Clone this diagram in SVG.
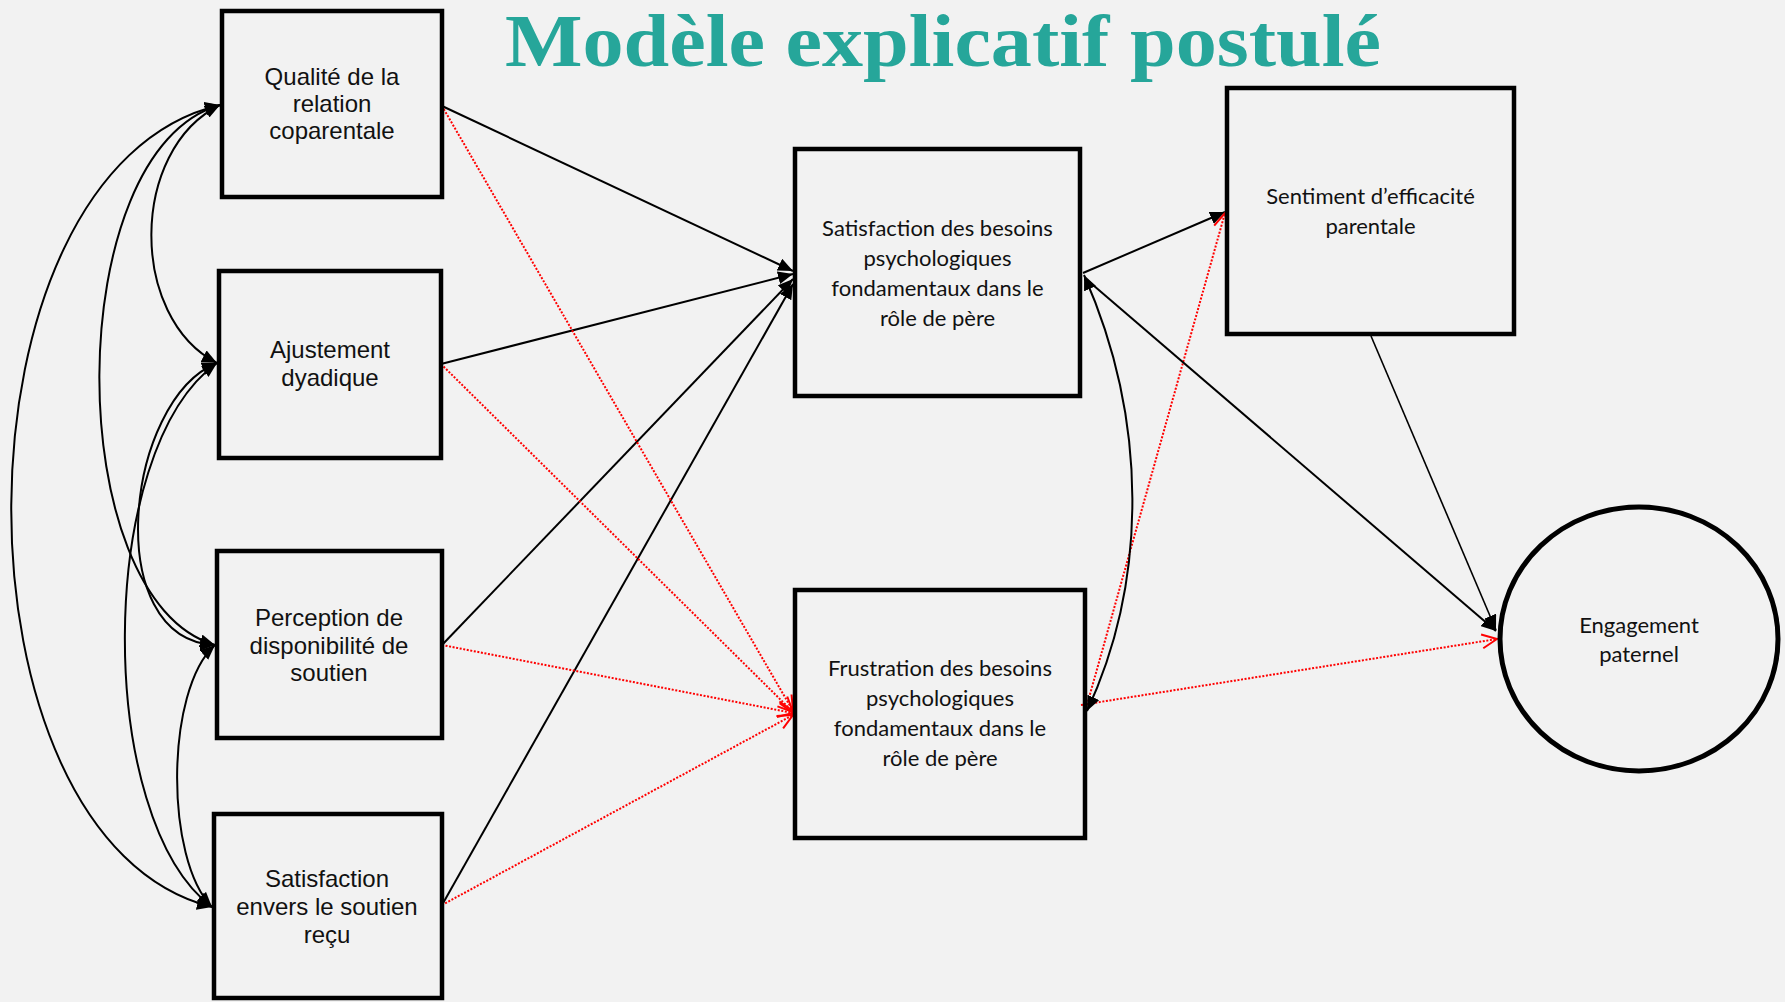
<svg xmlns="http://www.w3.org/2000/svg" width="1785" height="1002" viewBox="0 0 1785 1002">
  <defs>
    <style>
      .box { fill: none; stroke: #000; stroke-width: 4.5; }
      .lt { font-family: "Liberation Sans", Arial, sans-serif; font-size: 24px; fill: #111; text-anchor: middle; }
      .rt { font-family: Lato, "Open Sans", sans-serif; font-size: 22px; fill: #111; text-anchor: middle; }
      .solid { fill: none; stroke: #000; stroke-width: 2; }
      .thin { fill: none; stroke: #000; stroke-width: 1.6; }
      .dot { fill: none; stroke: #ff0000; stroke-width: 2; stroke-dasharray: 2 1.6; }
    </style>
    <marker id="ah" viewBox="0 0 15 13" refX="15" refY="6.5" markerWidth="15" markerHeight="13" markerUnits="userSpaceOnUse" orient="auto-start-reverse">
      <path d="M0,0 L15,6.5 L0,13 z" fill="#000"/>
    </marker>
    <marker id="rh" viewBox="0 0 17 17" refX="16" refY="8.5" markerWidth="17" markerHeight="17" markerUnits="userSpaceOnUse" orient="auto">
      <path d="M1,1.5 L16,8.5 L1,15.5" fill="none" stroke="#ff0000" stroke-width="2"/>
    </marker>
  </defs>
  <rect width="1785" height="1002" fill="#f2f2f2"/>

  <text x="943" y="66" font-family="'Liberation Serif', 'Times New Roman', serif" font-weight="bold" font-size="73" fill="#26a69a" text-anchor="middle" textLength="876" lengthAdjust="spacingAndGlyphs">Modèle explicatif postulé</text>

  <g id="connectors">
    <!-- left covariances -->
    <path class="solid" d="M220,105 C129,150 129,318 217,363" marker-start="url(#ah)" marker-end="url(#ah)"/>
    <path class="solid" d="M220,105 C60,150 60,600 215,645" marker-start="url(#ah)" marker-end="url(#ah)"/>
    <path class="solid" d="M220,105 C-57,170 -57,840 212,907" marker-start="url(#ah)" marker-end="url(#ah)"/>
    <path class="solid" d="M217,363 C125,400 100,640 215,645" marker-start="url(#ah)" marker-end="url(#ah)"/>
    <path class="solid" d="M217,363 C95,450 95,820 212,907" marker-start="url(#ah)" marker-end="url(#ah)"/>
    <path class="solid" d="M215,645 C165,690 165,860 212,907" marker-start="url(#ah)" marker-end="url(#ah)"/>

    <!-- to satisfaction -->
    <line class="solid" x1="442" y1="106" x2="793" y2="271" marker-end="url(#ah)"/>
    <line class="solid" x1="441" y1="364" x2="793" y2="274" marker-end="url(#ah)"/>
    <line class="solid" x1="442" y1="645" x2="793" y2="279" marker-end="url(#ah)"/>
    <line class="solid" x1="442" y1="905" x2="793" y2="284" marker-end="url(#ah)"/>

    <!-- to frustration -->
    <line class="dot" x1="442" y1="106" x2="793" y2="711" marker-end="url(#rh)"/>
    <line class="dot" x1="441" y1="364" x2="793" y2="712" marker-end="url(#rh)"/>
    <line class="dot" x1="442" y1="645" x2="793" y2="713" marker-end="url(#rh)"/>
    <line class="dot" x1="442" y1="905" x2="793" y2="715" marker-end="url(#rh)"/>

    <!-- right side -->
    <line class="solid" x1="1083" y1="273" x2="1225" y2="212" marker-end="url(#ah)"/>
    <line class="dot" x1="1085" y1="712" x2="1225" y2="213" marker-end="url(#rh)"/>
    <line class="dot" x1="1081" y1="705" x2="1497" y2="639" marker-end="url(#rh)"/>
    <line class="solid" x1="1086" y1="279" x2="1496" y2="631" marker-end="url(#ah)"/>
    <line class="thin" x1="1371" y1="336" x2="1496" y2="630" marker-end="url(#ah)"/>
    <path class="solid" d="M1084,275 C1148,420 1148,580 1087,711" marker-start="url(#ah)" marker-end="url(#ah)"/>
  </g>

  <g id="node-qualite">
    <rect class="box" x="222" y="11" width="220" height="186"/>
    <text class="lt" x="332" y="85">Qualité de la</text>
    <text class="lt" x="332" y="112">relation</text>
    <text class="lt" x="332" y="139">coparentale</text>
  </g>
  <g id="node-ajustement">
    <rect class="box" x="219" y="271" width="222" height="187"/>
    <text class="lt" x="330" y="358">Ajustement</text>
    <text class="lt" x="330" y="386">dyadique</text>
  </g>
  <g id="node-perception">
    <rect class="box" x="217" y="551" width="225" height="187"/>
    <text class="lt" x="329" y="626">Perception de</text>
    <text class="lt" x="329" y="654">disponibilité de</text>
    <text class="lt" x="329" y="681">soutien</text>
  </g>
  <g id="node-satisfaction-soutien">
    <rect class="box" x="214" y="814" width="228" height="184"/>
    <text class="lt" x="327" y="887">Satisfaction</text>
    <text class="lt" x="327" y="915">envers le soutien</text>
    <text class="lt" x="327" y="943">reçu</text>
  </g>
  <g id="node-satisfaction-besoins">
    <rect class="box" x="795" y="149" width="285" height="247"/>
    <text class="rt" x="937.5" y="236">Satisfaction des besoins</text>
    <text class="rt" x="937.5" y="266">psychologiques</text>
    <text class="rt" x="937.5" y="296">fondamentaux dans le</text>
    <text class="rt" x="937.5" y="326">rôle de père</text>
  </g>
  <g id="node-frustration">
    <rect class="box" x="795" y="590" width="290" height="248"/>
    <text class="rt" x="940" y="676">Frustration des besoins</text>
    <text class="rt" x="940" y="706">psychologiques</text>
    <text class="rt" x="940" y="736">fondamentaux dans le</text>
    <text class="rt" x="940" y="766">rôle de père</text>
  </g>
  <g id="node-sentiment">
    <rect class="box" x="1227" y="88" width="287" height="246"/>
    <text class="rt" x="1370.5" y="204">Sentiment d’efficacité</text>
    <text class="rt" x="1370.5" y="234">parentale</text>
  </g>
  <g id="node-engagement">
    <ellipse cx="1639" cy="639" rx="139" ry="132" fill="none" stroke="#000" stroke-width="5"/>
    <text class="rt" x="1639" y="633">Engagement</text>
    <text class="rt" x="1639" y="662">paternel</text>
  </g>
</svg>
